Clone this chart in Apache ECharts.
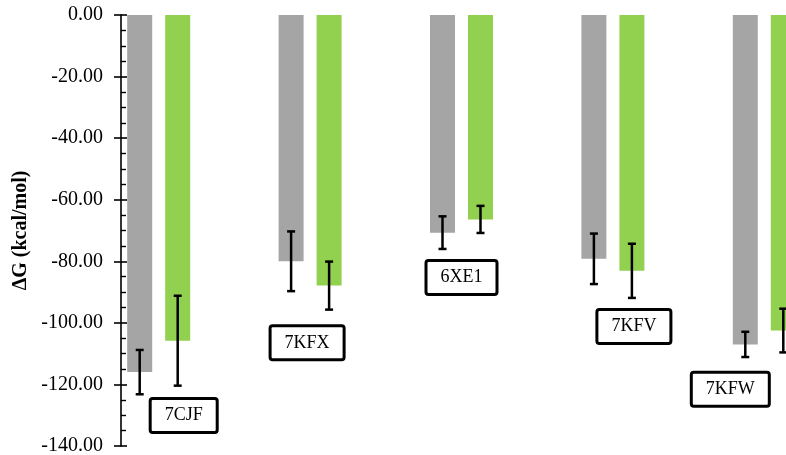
<!DOCTYPE html>
<html>
<head>
<meta charset="utf-8">
<script src="https://cdn.jsdelivr.net/npm/echarts@6/dist/echarts.min.js"></script>
<style>
  html, body { margin: 0; padding: 0; background: #fff; }
  #chart { width: 786px; height: 455px; }
</style>
</head>
<body>
<div id="chart"></div>
<script>
// Binding free energies per complex (kcal/mol)
const complexes = ['7CJF', '7KFX', '6XE1', '7KFV', '7KFW'];
const grayValues = [-116.0, -80.0, -70.7, -79.2, -107.0];
const grayErrors = [7.2, 9.7, 5.3, 8.2, 4.1];
const greenValues = [-105.8, -87.9, -66.4, -83.1, -102.5];
const greenErrors = [14.6, 7.8, 4.4, 8.8, 7.1];
const yTicks = { min: -140, max: 0, interval: 20 };

// Where each complex name box sits: value-axis level and pixel nudge from the category centre
const nameBoxLevel = [-130.1, -106.5, -85.3, -101.2, -121.6];
const nameBoxShift = [25, -3, 0, 21, -34];

const GRAY = '#a5a5a5';
const GREEN = '#92d050';
const BAR_W = 25;
const BAR_GAP_PX = 13;
const HALF_STEP = (BAR_W + BAR_GAP_PX) / 2;
const FONT = '"Liberation Serif", "Times New Roman", serif';

const chart = echarts.init(document.getElementById('chart'), null, { renderer: 'canvas' });

function errorBarSeries(values, errors, shift) {
  return {
    type: 'custom',
    z: 5,
    data: values.map((v, i) => [i, v, errors[i]]),
    renderItem(params, api) {
      const i = api.value(0), v = api.value(1), e = api.value(2);
      const top = api.coord([i, v + e]);
      const bot = api.coord([i, v - e]);
      const x = top[0] + shift;
      const cap = 4;
      const st = { stroke: '#000', lineWidth: 2.5 };
      return {
        type: 'group',
        children: [
          { type: 'line', shape: { x1: x, y1: top[1], x2: x, y2: bot[1] }, style: st },
          { type: 'line', shape: { x1: x - cap, y1: top[1], x2: x + cap, y2: top[1] }, style: st },
          { type: 'line', shape: { x1: x - cap, y1: bot[1], x2: x + cap, y2: bot[1] }, style: st }
        ]
      };
    }
  };
}

const yBase = {
  type: 'value',
  position: 'left',
  offset: -38,
  min: yTicks.min,
  max: yTicks.max,
  interval: yTicks.interval,
  splitLine: { show: false }
};

chart.setOption({
  animation: false,
  backgroundColor: '#fff',
  grid: { left: 83, top: 15, width: 757, bottom: 9, containLabel: false, outerBoundsMode: 'none' },
  xAxis: {
    type: 'category',
    data: complexes,
    axisLine: { show: false },
    axisTick: { show: false },
    axisLabel: { show: false }
  },
  yAxis: [
    Object.assign({}, yBase, {
      name: 'ΔG (kcal/mol)',
      nameLocation: 'middle',
      nameRotate: 90,
      nameGap: 87,
      nameTextStyle: { fontFamily: FONT, fontSize: 20, fontWeight: 'bold', color: '#000' },
      axisLine: { show: true, lineStyle: { color: '#000', width: 1.6 } },
      axisTick: { show: true, inside: true, length: 6, lineStyle: { color: '#000', width: 1.6 } },
      minorTick: { show: true, splitNumber: 4, length: 5, lineStyle: { color: '#000', width: 1.4 } },
      axisLabel: {
        margin: 18,
        fontFamily: FONT,
        fontSize: 20,
        color: '#000',
        formatter: v => v.toFixed(2)
      }
    }),
    Object.assign({}, yBase, {
      axisLine: { show: false },
      axisTick: { show: true, inside: false, length: 7, lineStyle: { color: '#000', width: 1.6 } },
      axisLabel: { show: false }
    })
  ],
  series: [
    {
      type: 'bar',
      data: grayValues,
      barWidth: BAR_W,
      barGap: (BAR_GAP_PX / BAR_W * 100) + '%',
      itemStyle: { color: GRAY }
    },
    {
      type: 'bar',
      data: greenValues,
      barWidth: BAR_W,
      itemStyle: { color: GREEN }
    },
    errorBarSeries(grayValues, grayErrors, -HALF_STEP),
    errorBarSeries(greenValues, greenErrors, HALF_STEP),
    {
      type: 'custom',
      z: 6,
      data: complexes.map((c, i) => [i, nameBoxLevel[i], nameBoxShift[i]]),
      renderItem(params, api) {
        const i = api.value(0);
        const p = api.coord([i, api.value(1)]);
        return {
          type: 'text',
          x: p[0] + api.value(2),
          y: p[1],
          style: {
            text: complexes[i],
            font: '18px ' + FONT,
            fill: '#000',
            align: 'center',
            verticalAlign: 'middle',
            backgroundColor: '#fff',
            borderColor: '#000',
            borderWidth: 3,
            borderRadius: 1,
            padding: [7, 13, 6, 13]
          }
        };
      }
    }
  ]
});
</script>
</body>
</html>
